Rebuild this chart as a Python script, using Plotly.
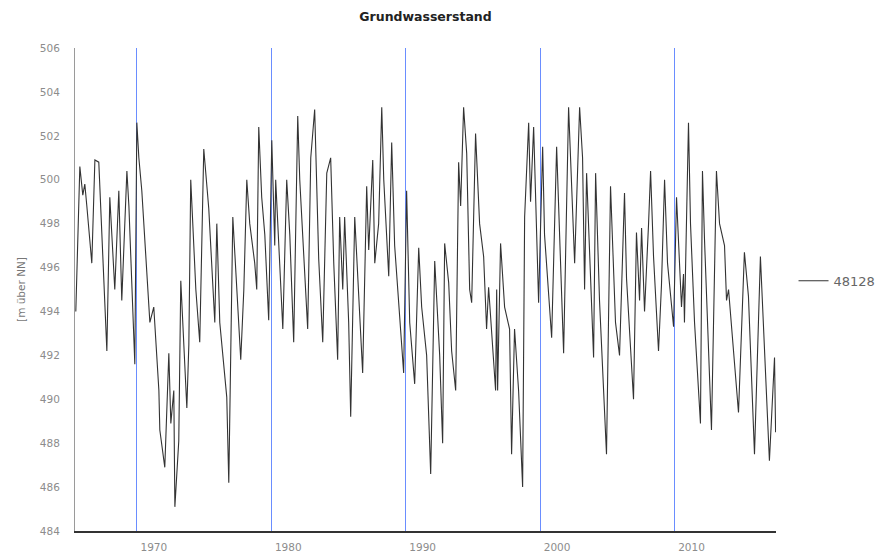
import plotly.graph_objects as go

# Messstelle 48128 – Grundwasserstand (Jahr als Dezimalzahl, Wert in m über NN)
years = [
    1965.46, 1965.76, 1965.98, 1966.13, 1966.28, 1966.65, 1966.88, 1967.17, 1967.77, 1967.99,
    1968.36, 1968.66, 1968.88, 1969.26, 1969.41, 1969.85, 1970.00, 1970.15, 1970.37, 1970.74,
    1970.97, 1971.26, 1971.64, 1971.71, 1972.08, 1972.38, 1972.53, 1972.75, 1972.83, 1973.12,
    1973.27, 1973.72, 1973.87, 1974.01, 1974.39, 1974.68, 1974.98, 1975.35, 1975.80, 1975.95,
    1976.17, 1976.69, 1976.84, 1977.14, 1977.43, 1977.73, 1977.96, 1978.18, 1978.40, 1978.77,
    1978.92, 1979.07, 1979.29, 1979.52, 1979.81, 1980.04, 1980.26, 1980.33, 1980.86, 1981.15,
    1981.38, 1981.52, 1981.67, 1981.97, 1982.12, 1982.71, 1982.94, 1983.23, 1983.53, 1983.83,
    1984.13, 1984.42, 1984.65, 1984.94, 1985.09, 1985.32, 1985.46, 1985.76, 1985.91, 1986.21,
    1986.36, 1986.58, 1986.80, 1987.10, 1987.25, 1987.55, 1987.70, 1987.99, 1988.22, 1988.37,
    1988.74, 1988.96, 1989.18, 1989.85, 1990.07, 1990.30, 1990.67, 1990.97, 1991.19, 1991.56,
    1991.86, 1992.16, 1992.53, 1992.75, 1992.90, 1993.20, 1993.42, 1993.72, 1993.94, 1994.09,
    1994.31, 1994.54, 1994.76, 1994.91, 1995.20, 1995.50, 1995.80, 1996.02, 1996.17, 1996.69,
    1996.77, 1996.84, 1997.06, 1997.36, 1997.73, 1997.88, 1998.10, 1998.40, 1998.70, 1998.85,
    1999.15, 1999.29, 1999.52, 1999.89, 2000.19, 2000.33, 2000.86, 2001.23, 2001.75, 2002.12,
    2002.49, 2002.57, 2002.94, 2003.16, 2003.31, 2003.46, 2003.98, 2004.13, 2004.42, 2004.94,
    2005.24, 2005.61, 2005.91, 2006.28, 2006.43, 2006.95, 2007.17, 2007.40, 2007.55, 2007.77,
    2008.07, 2008.22, 2008.44, 2008.81, 2009.03, 2009.26, 2009.48, 2009.93, 2010.15, 2010.52,
    2010.67, 2010.74, 2011.04, 2011.19, 2011.49, 2011.93, 2012.08, 2012.23, 2012.75, 2013.12,
    2013.35, 2013.72, 2013.87, 2014.02, 2014.76, 2015.20, 2015.50, 2015.95, 2016.39, 2016.62,
    2017.06, 2017.44, 2017.52,
]
levels = [
    494.0, 500.6, 499.3, 499.8, 498.8, 496.2, 500.9, 500.8, 492.2, 499.2,
    495.0, 499.5, 494.5, 500.4, 498.8, 491.6, 502.6, 501.0, 499.5, 495.7,
    493.5, 494.2, 490.4, 488.6, 486.9, 492.1, 488.9, 490.4, 485.1, 488.1,
    495.4, 489.6, 492.5, 500.0, 495.0, 492.6, 501.4, 498.7, 493.5, 498.0,
    493.5, 490.1, 486.2, 498.3, 495.0, 491.8, 495.0, 500.0, 498.0, 496.2,
    495.0, 502.4, 499.2, 497.5, 493.6, 501.8, 497.0, 500.0, 493.2, 500.0,
    497.5, 495.3, 492.6, 502.9, 500.0, 493.2, 501.0, 503.2, 496.4, 492.6,
    500.3, 501.0, 496.2, 491.8, 498.3, 495.0, 498.3, 493.5, 489.2, 498.3,
    496.5, 493.5, 491.2, 499.7, 496.8, 500.9, 496.2, 498.0, 503.3, 500.0,
    495.6, 501.7, 497.0, 491.2, 499.5, 493.5, 490.7, 496.9, 494.2, 492.0,
    486.6, 496.3, 492.0, 488.0, 497.1, 495.3, 492.2, 490.4, 500.8, 498.8,
    503.3, 501.2, 495.0, 494.4, 502.1, 498.0, 496.5, 493.2, 495.1, 490.4,
    495.0, 490.4, 497.1, 494.2, 493.2, 487.5, 493.2, 490.4, 486.0, 498.3,
    502.6, 499.0, 502.4, 494.4, 501.5, 497.5, 492.8, 501.5, 492.1, 503.3,
    497.5, 496.2, 503.3, 501.0, 495.0, 500.3, 491.9, 500.3, 494.5, 487.5,
    499.7, 493.5, 492.0, 499.4, 495.5, 490.0, 497.6, 494.5, 497.8, 494.0,
    498.0, 500.4, 496.5, 492.2, 495.2, 500.0, 496.2, 493.3, 499.2, 494.2,
    495.7, 493.5, 502.6, 498.0, 493.5, 488.9, 500.4, 497.3, 488.6, 500.4,
    498.0, 497.0, 494.5, 495.0, 489.4, 496.7, 494.7, 487.5, 496.5, 493.5,
    487.2, 491.9, 488.5,
]

x_ticks = [1970, 1980, 1990, 2000, 2010]
y_ticks = list(range(484, 507, 2))
series_name = "48128"

tick_font = dict(family="DejaVu Sans", size=10.5, color="#8c8c8c")

fig = go.Figure()
fig.add_trace(go.Scatter(
    x=years, y=levels, mode="lines", name=series_name,
    line=dict(color="#333333", width=1.1),
))

fig.update_layout(
    width=886, height=555,
    paper_bgcolor="white", plot_bgcolor="white",
    margin=dict(l=67, r=118, t=40, b=32),
    title=dict(text="<b>Grundwasserstand</b>", x=0.5, xref="paper", xanchor="center",
               y=0.984, yref="container", yanchor="middle",
               font=dict(family="DejaVu Sans", size=12.5, color="#222222")),
    showlegend=True,
    legend=dict(x=1.025, y=0.518, xanchor="left", yanchor="middle",
                font=dict(family="DejaVu Sans", size=13, color="#666666"),
                itemwidth=30, bgcolor="rgba(0,0,0,0)"),
    xaxis=dict(
        range=[1965.4, 2017.55], tickvals=x_ticks, ticktext=[str(t) for t in x_ticks],
        showgrid=True, gridcolor="#6a8dff", gridwidth=1,
        showline=True, linecolor="#333333", linewidth=2,
        ticks="", tickfont=tick_font, ticklabelshift=17, ticklabelstandoff=5,
        zeroline=False, automargin=False,
    ),
    yaxis=dict(
        range=[484, 506], tickvals=y_ticks, ticktext=[str(t) for t in y_ticks],
        showgrid=False, showline=True, linecolor="#9a9a9a", linewidth=1,
        ticks="", tickfont=tick_font, ticklabelstandoff=12, zeroline=False,
        automargin=False,
        title=dict(text="[m über NN]", font=dict(family="DejaVu Sans", size=10.5, color="#777777"),
                   standoff=12),
    ),
)

fig.write_html("out.html")
